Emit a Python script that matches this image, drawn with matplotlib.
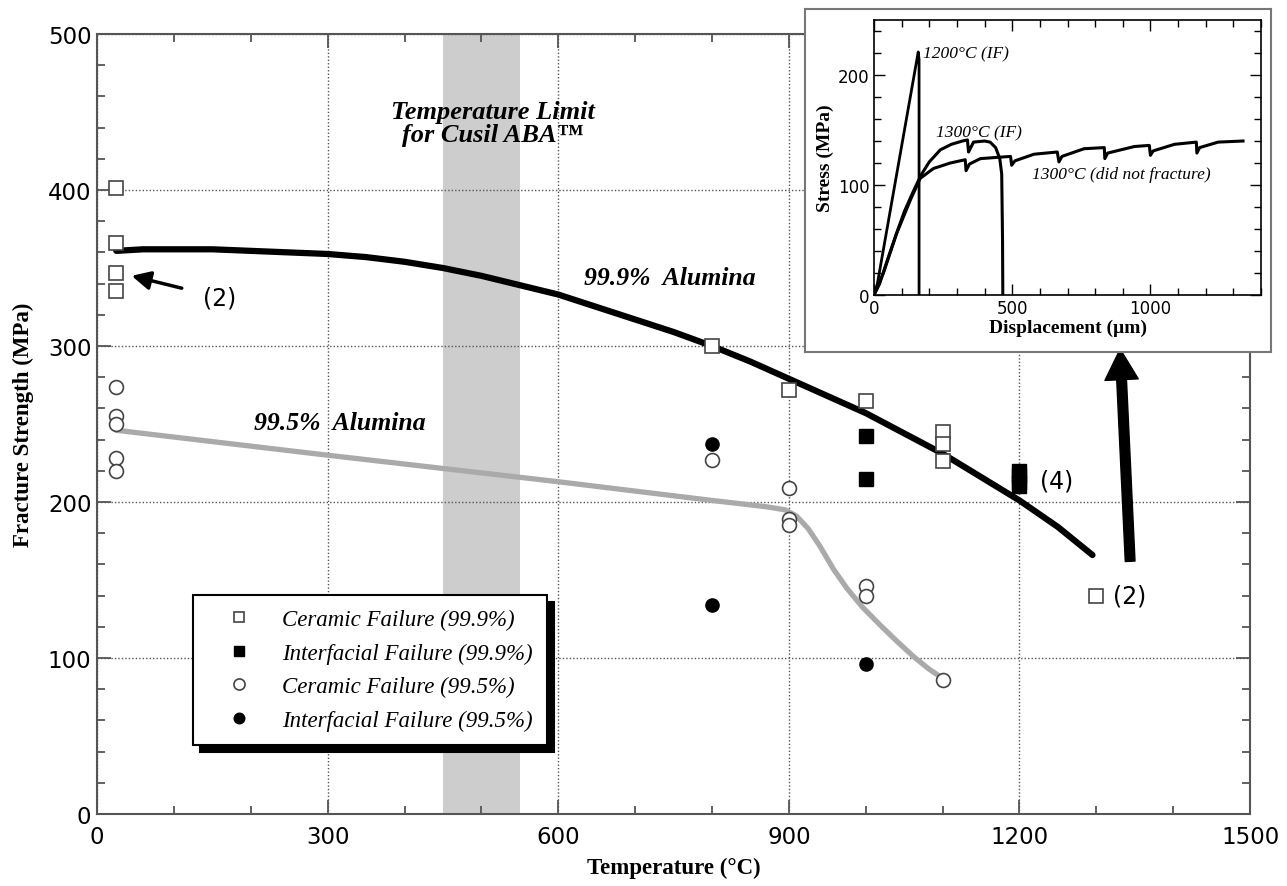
import matplotlib.pyplot as plt
from matplotlib.ticker import MultipleLocator

SERIF = 'Liberation Serif'

# --- main chart data (temperature in C, strength in MPa) ---
temp_cer_999 = [25, 25, 25, 25, 800, 900, 1000, 1100, 1100, 1100, 1300]
str_cer_999 = [401, 366, 347, 335, 300, 272, 265, 245, 237, 226, 140]
temp_int_999 = [1000, 1000, 1200, 1200, 1200, 1200]
str_int_999 = [242, 215, 220, 217, 213, 210]
temp_cer_995 = [25, 25, 25, 25, 25, 800, 900, 900, 900, 1000, 1000, 1100]
str_cer_995 = [274, 255, 250, 228, 220, 227, 209, 189, 185, 146, 140, 86]
temp_int_995 = [800, 800, 1000]
str_int_995 = [237, 134, 96]

# trend curves drawn through the data
fit_temp_999 = [25, 60, 100, 150, 200, 250, 300, 350, 400, 450, 500, 550, 600, 650, 700, 750,
                800, 850, 900, 950, 1000, 1050, 1100, 1150, 1200, 1250, 1295]
fit_str_999 = [361, 362, 362, 362, 361, 360, 359, 357, 354, 350, 345, 339, 333, 325, 317, 309,
               300, 290, 279, 268, 257, 244, 231, 216, 201, 184, 166]
fit_temp_995 = [25, 300, 600, 800, 870, 895, 910, 925, 940, 958, 975, 995, 1019, 1040, 1062,
                1082, 1100]
fit_str_995 = [246, 230, 213, 201, 197, 195, 191, 183, 172, 157, 145, 133, 121, 111, 101,
               93, 87]

cusil_limit = (450, 550)

# --- inset data (displacement in um, stress in MPa) ---
disp_1200 = [0, 12, 160, 163, 163]
stress_1200 = [0, 10, 221, 214, 0]
disp_1300_if = [0, 20, 50, 80, 110, 140, 170, 200, 240, 280, 320, 338, 342, 350, 360, 400,
                420, 440, 455, 462, 465, 466]
stress_1300_if = [0, 10, 33, 55, 76, 93, 109, 121, 132, 137, 140, 141, 130, 134, 139, 140,
                  139, 134, 124, 110, 50, 0]
disp_1300 = [0, 34, 82, 131, 167, 215, 276, 330, 333, 345, 385, 494, 498, 510, 579, 663, 669,
             680, 760, 833, 835, 845, 942, 996, 1000, 1010, 1087, 1166, 1168, 1178, 1245, 1335]
stress_1300 = [0, 20, 56, 86, 106, 115, 120, 123, 113, 119, 124, 126, 118, 122, 128, 130, 121,
               126, 133, 134, 124, 129, 135, 136, 127, 131, 137, 139, 129, 134, 139, 140]

plt.rcParams['font.family'] = 'DejaVu Sans'

fig = plt.figure(figsize=(12.87, 8.87), dpi=100)
ax = fig.add_axes([0.0754, 0.0812, 0.8959, 0.8793])

ax.axvspan(*cusil_limit, color='#cdcdcd', lw=0, zorder=0.3)

ax.plot(fit_temp_999, fit_str_999, color='black', lw=4.5, solid_capstyle='round',
        solid_joinstyle='round', zorder=2)
ax.plot(fit_temp_995, fit_str_995, color='#aaaaaa', lw=3.8, solid_capstyle='round',
        solid_joinstyle='round', zorder=2)

ax.plot(temp_cer_999, str_cer_999, 's', ms=9.5, mfc='white', mec='#444444', mew=1.2,
        ls='none', zorder=3, label='Ceramic Failure (99.9%)')
ax.plot(temp_int_999, str_int_999, 's', ms=9.5, mfc='black', mec='black', mew=1,
        ls='none', zorder=3, label='Interfacial Failure (99.9%)')
ax.plot(temp_cer_995, str_cer_995, 'o', ms=10, mfc='white', mec='#444444', mew=1.2,
        ls='none', zorder=3, label='Ceramic Failure (99.5%)')
ax.plot(temp_int_995, str_int_995, 'o', ms=9.5, mfc='black', mec='black', mew=1,
        ls='none', zorder=3, label='Interfacial Failure (99.5%)')

ax.set_xlim(0, 1500)
ax.set_ylim(0, 500)
ax.xaxis.set_major_locator(MultipleLocator(300))
ax.xaxis.set_minor_locator(MultipleLocator(100))
ax.yaxis.set_major_locator(MultipleLocator(100))
ax.yaxis.set_minor_locator(MultipleLocator(20))
ax.tick_params(which='both', direction='in', top=True, right=True, color='#555555', width=1.3)
ax.tick_params(which='major', length=10, labelsize=16.5, pad=8)
ax.tick_params(axis='y', which='major', pad=4)
ax.tick_params(which='minor', length=6)
for s in ax.spines.values():
    s.set_color('#555555')
    s.set_linewidth(1.5)
ax.grid(True, which='major', ls=(0, (1, 1.5)), color='#555555', lw=1)
ax.set_axisbelow(True)

ax.set_xlabel('Temperature (°C)', family=SERIF, weight='bold', fontsize=16.5, labelpad=6)
ax.set_ylabel('Fracture Strength (MPa)', family=SERIF, weight='bold', fontsize=16.5,
              labelpad=10)

ax.text(515, 443, 'Temperature Limit\nfor Cusil ABA™', family=SERIF, style='italic',
        weight='bold', fontsize=19, ha='center', va='center', linespacing=1.0)
ax.text(745, 344, '99.9%  Alumina', family=SERIF, style='italic', weight='bold',
        fontsize=18.5, ha='center', va='center')
ax.text(316, 251, '99.5%  Alumina', family=SERIF, style='italic', weight='bold',
        fontsize=18.5, ha='center', va='center')

ax.annotate('(2)', xy=(45, 345), xytext=(160, 331), fontsize=17, ha='center', va='center',
            arrowprops=dict(arrowstyle='-|>', color='black', lw=2.5, mutation_scale=28,
                            shrinkA=14, shrinkB=0))
ax.text(1227, 214, '(4)', fontsize=17, ha='left', va='center')
ax.text(1322, 140, '(2)', fontsize=17, ha='left', va='center')

ax.annotate('', xy=(1331, 298), xytext=(1344, 162),
            arrowprops=dict(width=7, headwidth=24, headlength=22, facecolor='black',
                            edgecolor='black', shrink=0))

leg = ax.legend(loc='lower left', bbox_to_anchor=(0.0833, 0.0885), borderaxespad=0,
                prop={'family': SERIF, 'style': 'italic', 'size': 16.5},
                frameon=True, fancybox=False, edgecolor='black', framealpha=1,
                borderpad=0.6, handlelength=2.8, handletextpad=0.5, labelspacing=0.55,
                markerscale=0.8,
                shadow={'ox': 5, 'oy': -5, 'color': 'black', 'alpha': 1})
leg.get_frame().set_linewidth(1.5)

# --- inset: frame and stress-displacement axes ---
frame = fig.add_axes([0.6255, 0.602, 0.3621, 0.3867])
frame.set_xticks([])
frame.set_yticks([])
for s in frame.spines.values():
    s.set_color('#777777')
    s.set_linewidth(1.5)

ins = fig.add_axes([0.6791, 0.6663, 0.3007, 0.31])
ins.plot(disp_1200, stress_1200, color='black', lw=2)
ins.plot(disp_1300_if, stress_1300_if, color='black', lw=2.2)
ins.plot(disp_1300, stress_1300, color='black', lw=2.2)
ins.set_xlim(0, 1400)
ins.set_ylim(0, 250)
ins.xaxis.set_major_locator(MultipleLocator(500))
ins.xaxis.set_minor_locator(MultipleLocator(100))
ins.yaxis.set_major_locator(MultipleLocator(100))
ins.yaxis.set_minor_locator(MultipleLocator(20))
ins.tick_params(which='both', direction='in', top=True, right=True, width=1)
ins.tick_params(which='major', length=8, labelsize=12, pad=3)
ins.tick_params(which='minor', length=5)
for s in ins.spines.values():
    s.set_linewidth(1.2)
ins.set_xlabel('Displacement (µm)', family=SERIF, weight='bold', fontsize=14, labelpad=1)
ins.set_ylabel('Stress (MPa)', family=SERIF, weight='bold', fontsize=14, labelpad=3)

ins.text(179, 220, '1200°C (IF)', family=SERIF, style='italic', fontsize=12.5, va='center')
ins.text(380, 148, '1300°C (IF)', family=SERIF, style='italic', fontsize=12.5,
         ha='center', va='center')
ins.text(893, 110, '1300°C (did not fracture)', family=SERIF, style='italic', fontsize=12.5,
         ha='center', va='center')

plt.savefig('out.png', dpi=100)
